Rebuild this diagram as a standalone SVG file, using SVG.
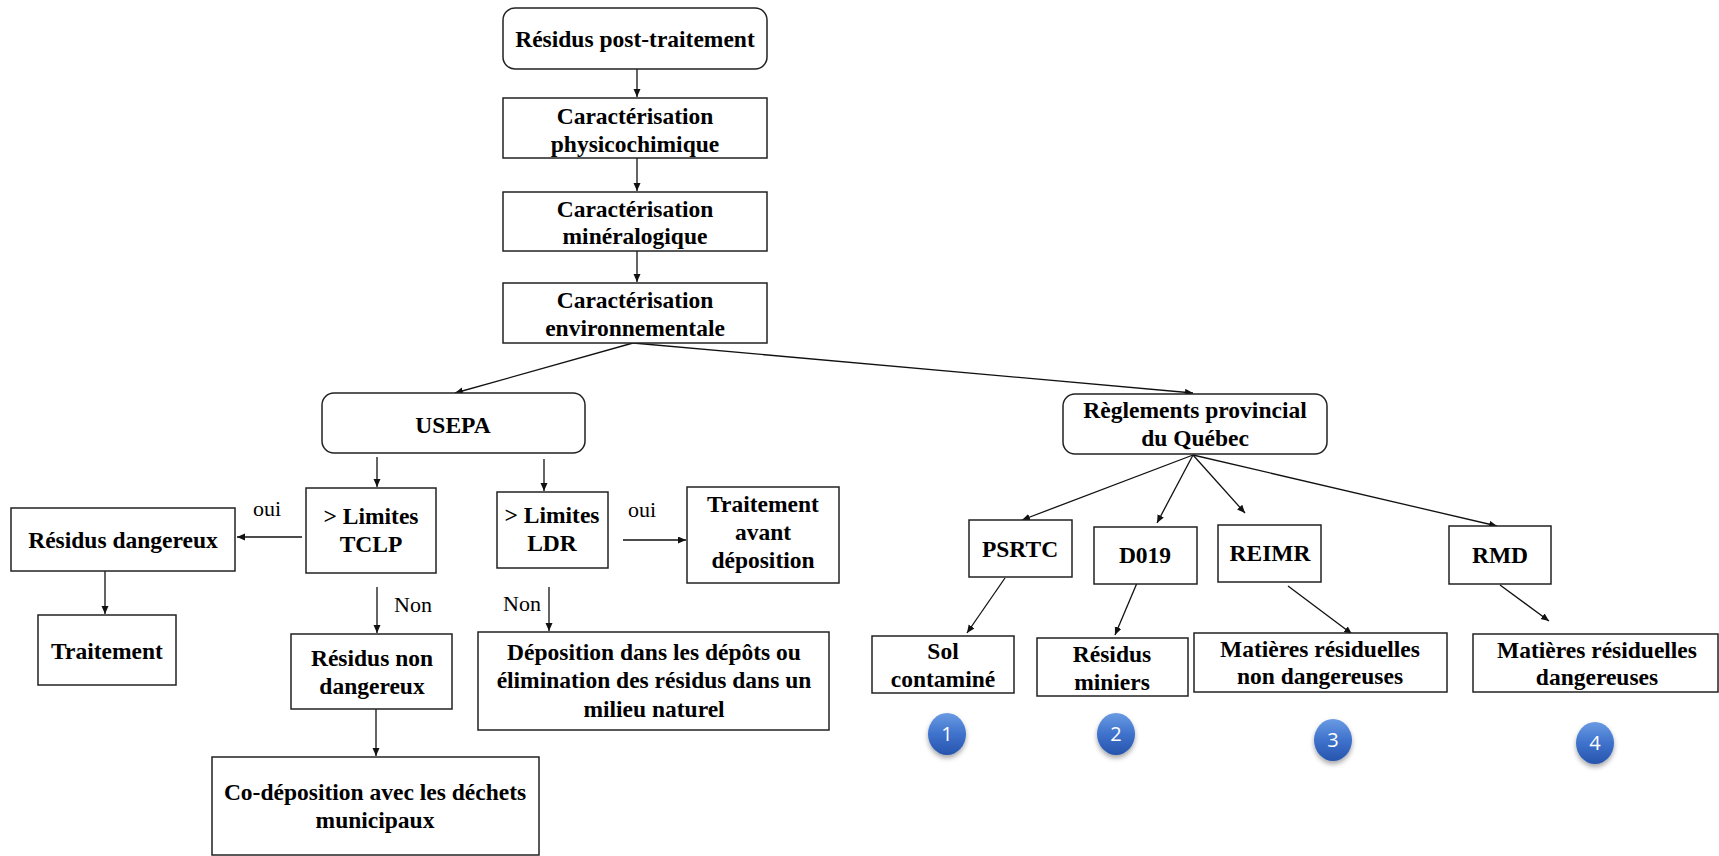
<svg xmlns="http://www.w3.org/2000/svg" width="1719" height="856" viewBox="0 0 1719 856">
  <defs>
    <style>
      .box { fill: #fff; stroke: #222; stroke-width: 1.5; }
      .t { font-family: "Liberation Serif", "Times New Roman", serif; font-weight: bold; font-size: 23.5px; fill: #000; text-anchor: middle; }
      .lbl { font-family: "Liberation Serif", "Times New Roman", serif; font-size: 22px; fill: #000; text-anchor: middle; }
      .edge { fill: none; stroke: #111; stroke-width: 1.3; marker-end: url(#arrow); }
      .num { font-family: "Open Sans", "Liberation Sans", sans-serif; font-size: 20px; fill: #fff; text-anchor: middle; }
      .badge { fill: url(#blueBall); filter: url(#shadow); }
    </style>
    <marker id="arrow" markerUnits="userSpaceOnUse" markerWidth="9" markerHeight="8" refX="8" refY="3.5" orient="auto">
      <path d="M0,0 L8,3.5 L0,7 z" fill="#111"/>
    </marker>
    <linearGradient id="blueBall" x1="0" y1="0" x2="0" y2="1">
      <stop offset="0" stop-color="#6a9be3"/>
      <stop offset="0.5" stop-color="#3f72cc"/>
      <stop offset="1" stop-color="#2755ad"/>
    </linearGradient>
    <filter id="shadow" x="-50%" y="-50%" width="200%" height="200%">
      <feDropShadow dx="0" dy="3" stdDeviation="2.5" flood-color="#000" flood-opacity="0.35"/>
    </filter>
  </defs>

  <!-- connectors -->
  <g id="connectors">
    <line class="edge" x1="637" y1="69" x2="637" y2="97"/>
    <line class="edge" x1="637" y1="158" x2="637" y2="191"/>
    <line class="edge" x1="637" y1="251" x2="637" y2="282"/>
    <line class="edge" x1="633" y1="343" x2="455" y2="393"/>
    <line class="edge" x1="633" y1="343" x2="1193" y2="393"/>
    <line class="edge" x1="377" y1="457" x2="377" y2="487"/>
    <line class="edge" x1="544" y1="459" x2="544" y2="491"/>
    <line class="edge" x1="302" y1="537" x2="237" y2="537"/>
    <line class="edge" x1="623" y1="540" x2="686" y2="540"/>
    <line class="edge" x1="105" y1="571" x2="105" y2="614"/>
    <line class="edge" x1="377" y1="587" x2="377" y2="633"/>
    <line class="edge" x1="549" y1="587" x2="549" y2="631"/>
    <line class="edge" x1="376" y1="709" x2="376" y2="756"/>
    <line class="edge" x1="1193" y1="455" x2="1022" y2="520"/>
    <line class="edge" x1="1193" y1="455" x2="1157" y2="523"/>
    <line class="edge" x1="1193" y1="455" x2="1245" y2="513"/>
    <line class="edge" x1="1193" y1="455" x2="1497" y2="526"/>
    <line class="edge" x1="1005" y1="578" x2="967" y2="633"/>
    <line class="edge" x1="1137" y1="583" x2="1115" y2="635"/>
    <line class="edge" x1="1288" y1="586" x2="1352" y2="634"/>
    <line class="edge" x1="1500" y1="585" x2="1549" y2="621"/>
    <text class="lbl" x="267" y="516">oui</text>
    <text class="lbl" x="642" y="517">oui</text>
    <text class="lbl" x="413" y="612">Non</text>
    <text class="lbl" x="522" y="611">Non</text>
  </g>

  <!-- main column -->
  <g id="residus-post">
    <rect class="box" x="503" y="8" width="264" height="61" rx="12"/>
    <text class="t" x="635" y="47">Résidus post-traitement</text>
  </g>
  <g id="caract-physico">
    <rect class="box" x="503" y="98" width="264" height="60"/>
    <text class="t" x="635" y="124">Caractérisation</text>
    <text class="t" x="635" y="152">physicochimique</text>
  </g>
  <g id="caract-mineralo">
    <rect class="box" x="503" y="192" width="264" height="59"/>
    <text class="t" x="635" y="217">Caractérisation</text>
    <text class="t" x="635" y="244">minéralogique</text>
  </g>
  <g id="caract-env">
    <rect class="box" x="503" y="283" width="264" height="60"/>
    <text class="t" x="635" y="308">Caractérisation</text>
    <text class="t" x="635" y="336">environnementale</text>
  </g>

  <!-- USEPA branch -->
  <g id="usepa">
    <rect class="box" x="322" y="393" width="263" height="60" rx="12"/>
    <text class="t" x="453" y="433">USEPA</text>
  </g>
  <g id="tclp">
    <rect class="box" x="306" y="488" width="130" height="85"/>
    <text class="t" x="371" y="524">&gt; Limites</text>
    <text class="t" x="371" y="552">TCLP</text>
  </g>
  <g id="ldr">
    <rect class="box" x="497" y="492" width="111" height="76"/>
    <text class="t" x="552" y="523">&gt; Limites</text>
    <text class="t" x="552" y="551">LDR</text>
  </g>
  <g id="residus-dangereux">
    <rect class="box" x="11" y="508" width="224" height="63"/>
    <text class="t" x="123" y="548">Résidus dangereux</text>
  </g>
  <g id="traitement">
    <rect class="box" x="38" y="615" width="138" height="70"/>
    <text class="t" x="107" y="659">Traitement</text>
  </g>
  <g id="traitement-avant">
    <rect class="box" x="687" y="487" width="152" height="96"/>
    <text class="t" x="763" y="512">Traitement</text>
    <text class="t" x="763" y="540">avant</text>
    <text class="t" x="763" y="568">déposition</text>
  </g>
  <g id="residus-non-dangereux">
    <rect class="box" x="291" y="634" width="161" height="75"/>
    <text class="t" x="372" y="666">Résidus non</text>
    <text class="t" x="372" y="694">dangereux</text>
  </g>
  <g id="co-deposition">
    <rect class="box" x="212" y="757" width="327" height="98"/>
    <text class="t" x="375" y="800">Co-déposition avec les déchets</text>
    <text class="t" x="375" y="828">municipaux</text>
  </g>
  <g id="deposition">
    <rect class="box" x="478" y="632" width="351" height="98"/>
    <text class="t" x="654" y="660">Déposition dans les dépôts ou</text>
    <text class="t" x="654" y="688">élimination des résidus dans un</text>
    <text class="t" x="654" y="717">milieu naturel</text>
  </g>

  <!-- Québec branch -->
  <g id="reglements">
    <rect class="box" x="1063" y="394" width="264" height="60" rx="12"/>
    <text class="t" x="1195" y="418">Règlements provincial</text>
    <text class="t" x="1195" y="446">du Québec</text>
  </g>
  <g id="psrtc">
    <rect class="box" x="969" y="520" width="103" height="57"/>
    <text class="t" x="1020" y="557">PSRTC</text>
  </g>
  <g id="d019">
    <rect class="box" x="1094" y="527" width="103" height="57"/>
    <text class="t" x="1145" y="563">D019</text>
  </g>
  <g id="reimr">
    <rect class="box" x="1218" y="525" width="103" height="57"/>
    <text class="t" x="1270" y="561">REIMR</text>
  </g>
  <g id="rmd">
    <rect class="box" x="1449" y="526" width="102" height="58"/>
    <text class="t" x="1500" y="563">RMD</text>
  </g>
  <g id="sol">
    <rect class="box" x="872" y="636" width="142" height="57"/>
    <text class="t" x="943" y="659">Sol</text>
    <text class="t" x="943" y="687">contaminé</text>
  </g>
  <g id="residus-miniers">
    <rect class="box" x="1037" y="638" width="151" height="58"/>
    <text class="t" x="1112" y="662">Résidus</text>
    <text class="t" x="1112" y="690">miniers</text>
  </g>
  <g id="matieres-non-dangereuses">
    <rect class="box" x="1194" y="633" width="253" height="59"/>
    <text class="t" x="1320" y="657">Matières résiduelles</text>
    <text class="t" x="1320" y="684">non dangereuses</text>
  </g>
  <g id="matieres-dangereuses">
    <rect class="box" x="1473" y="634" width="245" height="58"/>
    <text class="t" x="1597" y="658">Matières résiduelles</text>
    <text class="t" x="1597" y="685">dangereuses</text>
  </g>

  <!-- numbered badges -->
  <g id="badge-1">
    <ellipse class="badge" cx="947" cy="734" rx="19" ry="21"/>
    <text class="num" x="947" y="741">1</text>
  </g>
  <g id="badge-2">
    <ellipse class="badge" cx="1116" cy="734" rx="19" ry="21"/>
    <text class="num" x="1116" y="741">2</text>
  </g>
  <g id="badge-3">
    <ellipse class="badge" cx="1333" cy="740" rx="19" ry="21"/>
    <text class="num" x="1333" y="747">3</text>
  </g>
  <g id="badge-4">
    <ellipse class="badge" cx="1595" cy="743" rx="19" ry="21"/>
    <text class="num" x="1595" y="750">4</text>
  </g>
</svg>
